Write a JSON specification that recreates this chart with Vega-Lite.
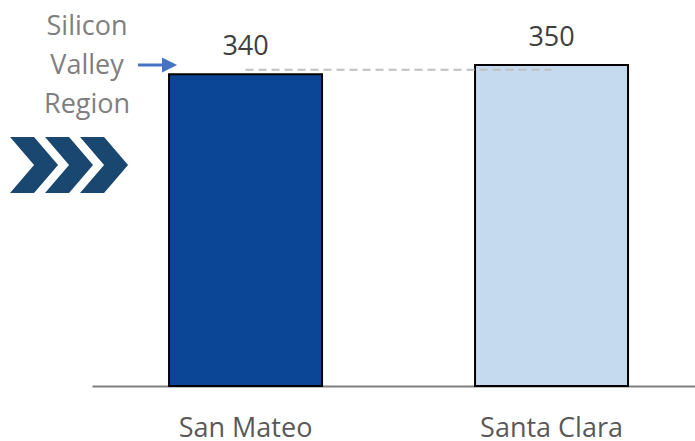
{
  "$schema": "https://vega.github.io/schema/vega-lite/v6.json",
  "width": 603,
  "height": 386,
  "autosize": {"type": "none"},
  "padding": {"left": 92, "top": 0, "right": 0, "bottom": 55},
  "background": "white",
  "config": {"view": {"stroke": null}, "font": "Open Sans"},
  "data": {"values": [
    {"county": "San Mateo", "value": 340},
    {"county": "Santa Clara", "value": 350}
  ]},
  "layer": [
    {
      "mark": {"type": "bar", "stroke": "black", "strokeWidth": 2},
      "encoding": {
        "x": {"field": "county", "type": "nominal", "sort": null,
          "scale": {"paddingInner": 0.5, "paddingOuter": 0.2353, "align": 0.535},
          "axis": {"title": null, "labelAngle": 0, "labelFont": "Open Sans", "labelFontSize": 27,
            "labelColor": "#595959", "ticks": false, "domainColor": "#808080", "domainWidth": 2,
            "labelPadding": 29, "grid": false}},
        "y": {"field": "value", "type": "quantitative",
          "scale": {"domain": [0, 421], "nice": false, "zero": true}, "axis": null},
        "color": {"field": "county", "type": "nominal",
          "scale": {"range": ["#0B4595", "#C5DAEF"]}, "legend": null}
      }
    },
    {
      "mark": {"type": "text", "dy": -19.5, "fontSize": 27, "font": "Open Sans", "color": "#404040", "baseline": "alphabetic"},
      "encoding": {
        "x": {"field": "county", "type": "nominal", "sort": null},
        "y": {"field": "value", "type": "quantitative"},
        "text": {"field": "value", "type": "quantitative"}
      }
    },
    {
      "data": {"values": [{}]},
      "mark": {"type": "rule", "strokeDash": [8, 5], "color": "#BFBFBF", "strokeWidth": 2},
      "encoding": {
        "x": {"datum": "San Mateo", "type": "nominal"},
        "x2": {"datum": "Santa Clara"},
        "y": {"datum": 345, "type": "quantitative"}
      }
    },
    {
      "data": {"values": [{}]},
      "mark": {"type": "text", "fontSize": 27, "font": "Open Sans", "color": "#7F7F7F", "align": "center",
        "baseline": "alphabetic", "lineHeight": 39, "dx": -158.5},
      "encoding": {
        "x": {"datum": "San Mateo", "type": "nominal"},
        "y": {"datum": 383, "type": "quantitative"},
        "text": {"value": ["Silicon", "Valley", "Region"]}
      }
    },
    {
      "data": {"values": [{}]},
      "mark": {"type": "point", "filled": true, "opacity": 1, "strokeWidth": 0, "size": 4, "color": "#4472C4",
        "shape": "M-19.5,-1.5 L4.5,-1.5 L4.5,-7.5 L19.5,0 L4.5,7.5 L4.5,1.5 L-19.5,1.5 Z",
        "xOffset": -88},
      "encoding": {
        "x": {"datum": "San Mateo", "type": "nominal"},
        "y": {"datum": 350, "type": "quantitative"}
      }
    },
    {
      "data": {"values": [{}]},
      "mark": {"type": "point", "filled": true, "opacity": 1, "strokeWidth": 0, "size": 4, "color": "#1A4770",
        "shape": "M-59,-28 L-35,-28 L-11,0 L-35,28 L-59,28 L-35,0 Z M-24,-28 L0,-28 L24,0 L0,28 L-24,28 L0,0 Z M11,-28 L35,-28 L59,0 L35,28 L11,28 L35,0 Z",
        "xOffset": -176.5, "yOffset": -1},
      "encoding": {
        "x": {"datum": "San Mateo", "type": "nominal"},
        "y": {"datum": 240, "type": "quantitative"}
      }
    }
  ]
}
